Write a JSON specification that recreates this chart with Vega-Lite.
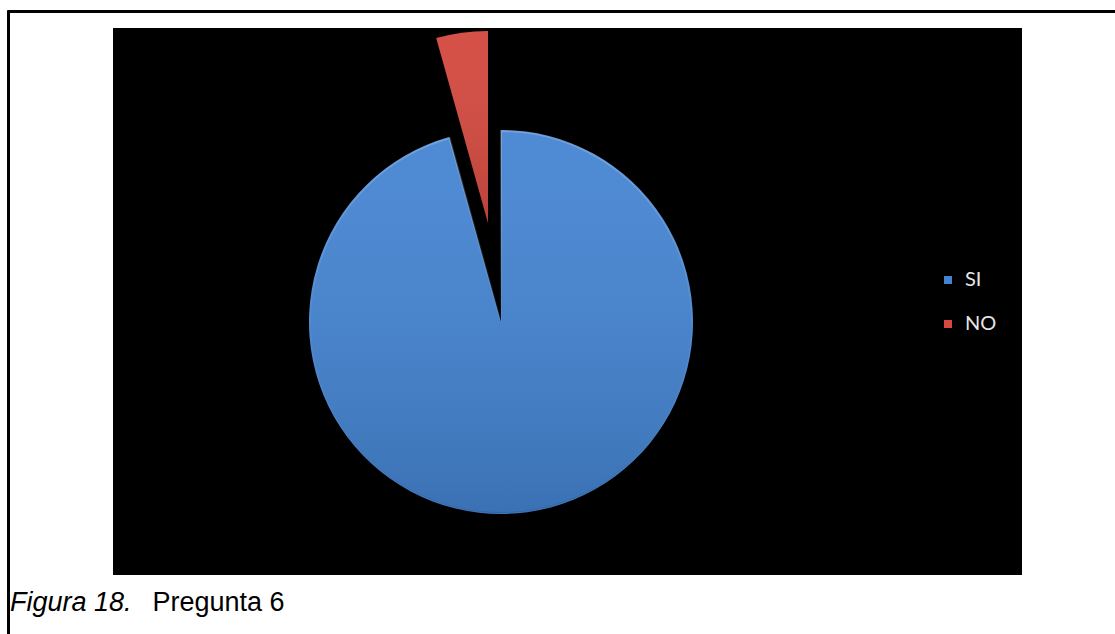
{
  "$schema": "https://vega.github.io/schema/vega-lite/v6.json",
  "width": 909,
  "height": 547,
  "autosize": {"type": "none"},
  "padding": {"left": 113, "top": 28, "right": 93, "bottom": 59},
  "background": "white",
  "view": {"fill": "black", "stroke": null},
  "title": {
    "text": "Figura 18.",
    "subtitle": "\u200b\u00a0\u00a0\u00a0\u00a0\u00a0\u00a0\u00a0\u00a0\u00a0\u00a0\u00a0\u00a0\u00a0\u00a0\u00a0\u00a0\u00a0\u00a0\u00a0Pregunta 6",
    "orient": "bottom",
    "anchor": "start",
    "frame": "group",
    "dx": -103,
    "offset": -63,
    "font": "Liberation Sans",
    "fontSize": 27,
    "fontStyle": "italic",
    "fontWeight": "normal",
    "color": "black",
    "lineHeight": 27,
    "subtitleFont": "Liberation Sans",
    "subtitleFontSize": 27,
    "subtitleFontStyle": "normal",
    "subtitleFontWeight": "normal",
    "subtitleColor": "black",
    "subtitleLineHeight": 27,
    "subtitlePadding": -27
  },
  "data": {"values": [
    {"respuesta": "SI", "cantidad": 22},
    {"respuesta": "NO", "cantidad": 1}
  ]},
  "transform": [
    {"stack": "cantidad", "groupby": [], "sort": [{"field": "respuesta", "order": "descending"}], "as": ["c0", "c1"]}
  ],
  "layer": [
    {
      "mark": {"type": "rule", "opacity": 0},
      "encoding": {
        "x": {"datum": 0, "type": "quantitative", "scale": {"domain": [0, 1], "range": [-106, 1003]},
              "axis": {"orient": "top", "offset": 17, "domainColor": "black", "domainWidth": 3, "labels": false, "ticks": false, "grid": false, "title": null}},
        "y": {"datum": 0, "type": "quantitative", "scale": {"domain": [0, 1], "range": [607, -18]},
              "axis": {"orient": "left", "offset": 105, "domainColor": "black", "domainWidth": 3, "labels": false, "ticks": false, "grid": false, "title": null}}
      }
    },
    {
      "transform": [{"filter": "datum.respuesta === 'SI'"}],
      "mark": {"type": "arc", "x": 388, "y": 294, "radius": 192},
      "encoding": {
        "theta": {"field": "c0", "type": "quantitative", "scale": {"domain": [0, 23]}},
        "theta2": {"field": "c1"},
        "color": {"field": "respuesta", "type": "nominal",
                  "scale": {"domain": ["SI", "NO"], "range": ["#4484d2", "#d44a40"]},
                  "legend": {"orient": "none", "legendX": 825, "legendY": 242, "title": null,
                             "symbolType": "square", "symbolSize": 64, "symbolStrokeWidth": 0,
                             "labelFontSize": 20, "labelColor": "#e6e6e6", "labelFont": "Lato",
                             "rowPadding": 24, "labelOffset": 7}}
      }
    },
    {
      "transform": [{"filter": "datum.respuesta === 'SI'"}],
      "mark": {"type": "arc", "x": 388, "y": 294, "radius": 191,
               "fill": {"gradient": "linear", "x1": 0, "y1": 0, "x2": 0, "y2": 1,
                        "stops": [{"offset": 0, "color": "rgba(255,255,255,0.06)"}, {"offset": 1, "color": "rgba(0,0,0,0.14)"}]},
               "strokeWidth": 2,
               "stroke": {"gradient": "linear", "x1": 0, "y1": 0, "x2": 0, "y2": 1,
                        "stops": [{"offset": 0, "color": "rgba(255,255,255,0.22)"}, {"offset": 0.5, "color": "rgba(255,255,255,0.05)"}, {"offset": 1, "color": "rgba(0,0,0,0.1)"}]}},
      "encoding": {
        "theta": {"field": "c0", "type": "quantitative"},
        "theta2": {"field": "c1"}
      }
    },
    {
      "transform": [{"filter": "datum.respuesta === 'NO'"}],
      "mark": {"type": "arc", "x": 388, "y": 294, "radius": 192, "xOffset": -13, "yOffset": -99},
      "encoding": {
        "theta": {"field": "c0", "type": "quantitative"},
        "theta2": {"field": "c1"},
        "color": {"field": "respuesta", "type": "nominal"}
      }
    },
    {
      "transform": [{"filter": "datum.respuesta === 'NO'"}],
      "mark": {"type": "arc", "x": 388, "y": 294, "radius": 192, "xOffset": -13, "yOffset": -99,
               "fill": {"gradient": "linear", "x1": 0, "y1": 0, "x2": 0, "y2": 1,
                        "stops": [{"offset": 0, "color": "rgba(255,255,255,0.04)"}, {"offset": 1, "color": "rgba(0,0,0,0.12)"}]}},
      "encoding": {
        "theta": {"field": "c0", "type": "quantitative"},
        "theta2": {"field": "c1"}
      }
    }
  ]
}
